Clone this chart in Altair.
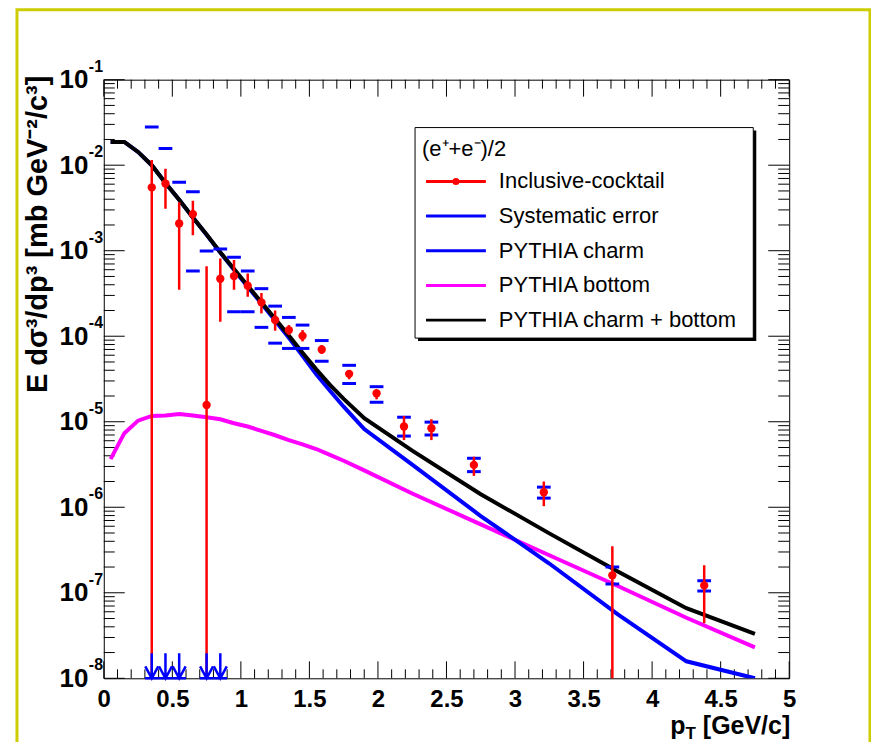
import altair as alt
import pandas as pd

W, H = 687, 600

# ---------------- data ----------------
pt_points = [0.35, 0.45, 0.55, 0.65, 0.75, 0.85, 0.95, 1.05, 1.15, 1.25, 1.35,
             1.45, 1.59, 1.79, 1.99, 2.19, 2.39, 2.70, 3.21, 3.71, 4.38]
yield_points = [5.5e-3, 6.1e-3, 2.08e-3, 2.68e-3, 1.57e-5, 4.7e-4, 5.05e-4, 3.9e-4,
                2.49e-4, 1.55e-4, 1.18e-4, 1.01e-4, 7.0e-5, 3.63e-5, 2.15e-5, 8.8e-6,
                8.4e-6, 3.13e-6, 1.5e-6, 1.6e-7, 1.22e-7]
# 0 = lower edge below the axis floor
stat_high = [1.15e-2, 9.1e-3, 3.7e-3, 3.85e-3, 6.6e-4, 8.1e-4, 7.8e-4, 5.4e-4, 3.2e-4,
             2.0e-4, 1.35e-4, 1.18e-4, 7.9e-5, 4.0e-5, 2.4e-5, 1.17e-5, 1.07e-5,
             3.9e-6, 2.0e-6, 3.5e-7, 2.1e-7]
stat_low = [0, 3.1e-3, 3.5e-4, 1.52e-3, 0, 1.48e-4, 3.5e-4, 2.9e-4, 1.85e-4, 1.16e-4,
            1.03e-4, 8.7e-5, 6.2e-5, 3.14e-5, 1.83e-5, 6.1e-6, 6.1e-6, 2.33e-6,
            1.03e-6, 0, 4.4e-8]
sys_high = [2.8e-2, 1.57e-2, 6.3e-3, 4.9e-3, 9.9e-4, 1.05e-3, 8.4e-4, 5.8e-4, 3.6e-4,
            2.25e-4, 1.66e-4, 1.35e-4, 8.9e-5, 4.57e-5, 2.57e-5, 1.13e-5, 9.9e-6,
            3.74e-6, 1.72e-6, 2.0e-7, 1.38e-7]
sys_low = [0, 0, 0, 5.8e-4, 0, 0, 1.93e-4, 1.93e-4, 1.27e-4, 8.3e-5, 7.2e-5, 7.2e-5,
           5.1e-5, 2.8e-5, 1.69e-5, 6.8e-6, 7.0e-6, 2.61e-6, 1.28e-6, 1.27e-7, 1.05e-7]

pt_curve = [0.05, 0.15, 0.25, 0.35, 0.45, 0.55, 0.65, 0.75, 0.85, 0.95, 1.05, 1.15,
            1.25, 1.35, 1.45, 1.55, 1.65, 1.75, 1.9, 2.25, 2.75, 3.25, 3.75, 4.25, 4.75]
pythia_charm = [1.87e-2, 1.87e-2, 1.43e-2, 1.0e-2, 6.2e-3, 3.94e-3, 2.44e-3, 1.54e-3,
                9.5e-4, 6.0e-4, 3.8e-4, 2.42e-4, 1.53e-4, 9.6e-5, 5.9e-5, 3.6e-5,
                2.3e-5, 1.5e-5, 8.2e-6, 3.15e-6, 7.9e-7, 2.2e-7, 5.6e-8, 1.58e-8, 1.0e-8]
pythia_bottom = [3.65e-6, 7.35e-6, 1.03e-5, 1.17e-5, 1.18e-5, 1.23e-5, 1.18e-5, 1.13e-5,
                 1.07e-5, 9.6e-6, 8.8e-6, 7.8e-6, 6.95e-6, 6.1e-6, 5.45e-6, 4.8e-6,
                 4.1e-6, 3.5e-6, 2.7e-6, 1.45e-6, 6.3e-7, 2.75e-7, 1.2e-7, 5.1e-8, 2.3e-8]
pythia_sum = [1.87e-2, 1.87e-2, 1.43e-2, 1.0e-2, 6.2e-3, 3.95e-3, 2.45e-3, 1.55e-3,
              9.6e-4, 6.1e-4, 3.9e-4, 2.5e-4, 1.6e-4, 1.02e-4, 6.4e-5, 4.1e-5, 2.7e-5,
              1.85e-5, 1.1e-5, 4.6e-6, 1.42e-6, 4.95e-7, 1.77e-7, 6.6e-8, 3.3e-8]

x_major = [0, 0.5, 1, 1.5, 2, 2.5, 3, 3.5, 4, 4.5, 5]
x_minor = [round(i * 0.1, 1) for i in range(51) if i % 5 != 0]
y_decades = [1e-8, 1e-7, 1e-6, 1e-5, 1e-4, 1e-3, 1e-2, 1e-1]
y_exponents = ["-8", "-7", "-6", "-5", "-4", "-3", "-2", "-1"]
y_minor = [m * 10.0 ** e for e in range(-8, -1) for m in range(2, 10)]

legend_header = "(e\u207a+e\u207b)/2"
legend_labels = ["Inclusive-cocktail", "Systematic error", "PYTHIA charm",
                 "PYTHIA bottom", "PYTHIA charm + bottom"]
legend_colors = ["#ff0000", "#0000ff", "#0000ff", "#ff00ff", "#000000"]

y_title = "E d\u03c3\u00b3/dp\u00b3 [mb GeV\u207b\u00b2/c\u00b3]"
x_title_main, x_title_sub, x_title_unit = "p", "T", "[GeV/c]"

RED, BLUE, MAG, BLACK = "#ff0000", "#0000ff", "#ff00ff", "#000000"
FONT = "Liberation Sans"

# ---------------- scales / axes ----------------
xscale = alt.Scale(domain=[0, 5], nice=False, zero=False)
yscale = alt.Scale(type="log", domain=[1e-8, 1e-1], nice=False)
xaxis = alt.Axis(values=x_major, format="~g", labelFontSize=24, labelFont=FONT,
                 labelFontWeight="bold", labelColor="black", labelPadding=9,
                 ticks=False, tickSize=0, domain=False, grid=False, title=None,
                 labelFlush=False, labelOverlap=False)
yaxis = alt.Axis(values=y_decades, labelExpr="'10'", labelFontSize=26, labelFont=FONT,
                 labelFontWeight="bold", labelColor="black", labelPadding=16,
                 ticks=False, tickSize=0, domain=False, grid=False, title=None,
                 labelFlush=False, labelOverlap=False, labelBaseline="middle")


def X(f):
    return alt.X(f, type="quantitative", scale=xscale, axis=xaxis)


def Y(f):
    return alt.Y(f, type="quantitative", scale=yscale, axis=yaxis)


pts = pd.DataFrame({"pt": pt_points, "y": yield_points, "shi": stat_high,
                    "slo": stat_low, "syhi": sys_high, "sylo": sys_low})
cur = pd.DataFrame({"pt": pt_curve, "charm": pythia_charm, "bottom": pythia_bottom,
                    "sum": pythia_sum})

layers = []

# yellow canvas frame
layers.append(alt.Chart(pd.DataFrame({"a": [0]})).mark_rect(
    fill="transparent", stroke="#cccc00", strokeWidth=3).encode(
    x=alt.value(-87), x2=alt.value(768), y=alt.value(-70), y2=alt.value(700)))

# inner ticks (ROOT style, all four sides)
xmaj = pd.DataFrame({"v": x_major})
xmin = pd.DataFrame({"v": x_minor})
ymaj = pd.DataFrame({"v": y_decades})
ymin = pd.DataFrame({"v": y_minor})
tick = dict(color="black", strokeWidth=1)
layers += [
    alt.Chart(xmaj).mark_rule(**tick).encode(x=X("v"), y=alt.value(H), y2=alt.value(H - 17)),
    alt.Chart(xmaj).mark_rule(**tick).encode(x=X("v"), y=alt.value(0), y2=alt.value(17)),
    alt.Chart(xmin).mark_rule(**tick).encode(x=X("v"), y=alt.value(H), y2=alt.value(H - 9)),
    alt.Chart(xmin).mark_rule(**tick).encode(x=X("v"), y=alt.value(0), y2=alt.value(9)),
    alt.Chart(ymaj).mark_rule(**tick).encode(y=Y("v"), x=alt.value(0), x2=alt.value(21)),
    alt.Chart(ymaj).mark_rule(**tick).encode(y=Y("v"), x=alt.value(W), x2=alt.value(W - 21)),
    alt.Chart(ymin).mark_rule(**tick).encode(y=Y("v"), x=alt.value(0), x2=alt.value(11)),
    alt.Chart(ymin).mark_rule(**tick).encode(y=Y("v"), x=alt.value(W), x2=alt.value(W - 11)),
]

# y exponents
exps = pd.DataFrame({"v": y_decades, "e": y_exponents})
layers.append(alt.Chart(exps).mark_text(align="left", baseline="middle", fontSize=16,
                                        fontWeight="bold", font=FONT, color="black",
                                        dy=-13).encode(
    y=Y("v"), x=alt.value(-15), text="e:N"))

# curves
for col, colr in [("bottom", MAG), ("charm", BLUE), ("sum", BLACK)]:
    layers.append(alt.Chart(cur).mark_line(color=colr, strokeWidth=4, clip=True).encode(
        x=X("pt"), y=Y(col)))

# systematic error dashes
half = 0.05
sysbase = alt.Chart(pts).transform_calculate(x1=f"datum.pt - {half}", x2=f"datum.pt + {half}")
layers.append(sysbase.mark_rule(color=BLUE, strokeWidth=3, clip=True).encode(
    x=X("x1"), x2="x2:Q", y=Y("syhi")))
layers.append(sysbase.transform_filter("datum.sylo > 0").mark_rule(
    color=BLUE, strokeWidth=3, clip=True).encode(x=X("x1"), x2="x2:Q", y=Y("sylo")))

# statistical error bars
layers.append(alt.Chart(pts).transform_calculate(
    lo="datum.slo > 0 ? datum.slo : 1e-10").mark_rule(
    color=RED, strokeWidth=2.5, clip=True).encode(x=X("pt"), y=Y("shi"), y2="lo:Q"))

# points
layers.append(alt.Chart(pts).mark_circle(color=RED, size=70, opacity=1).encode(
    x=X("pt"), y=Y("y")))

# arrows for systematic lower edge below floor
arrow = "M0,-2.85L0,1M-1,-0.85L0,1L1,-0.85M-1.05,1L1.05,1"
layers.append(alt.Chart(pts).transform_filter("datum.sylo <= 0").mark_point(
    shape=arrow, size=169, filled=False, stroke=BLUE, strokeWidth=2.5, opacity=1).encode(
    x=X("pt"), y=alt.value(H - 6.5)))

# legend
one = pd.DataFrame({"a": [0]})
layers.append(alt.Chart(one).mark_rect(fill="black").encode(
    x=alt.value(315), x2=alt.value(654), y=alt.value(51), y2=alt.value(262)))
layers.append(alt.Chart(one).mark_rect(fill="white", stroke="black", strokeWidth=1).encode(
    x=alt.value(312), x2=alt.value(651), y=alt.value(48), y2=alt.value(259)))
layers.append(alt.Chart(pd.DataFrame({"t": [legend_header]})).mark_text(
    align="left", baseline="middle", fontSize=22, font=FONT, color="black").encode(
    x=alt.value(319), y=alt.value(69), text="t:N"))
for i, (lab, colr) in enumerate(zip(legend_labels, legend_colors)):
    yy = 102 + i * 34.75
    layers.append(alt.Chart(one).mark_rule(color=colr, strokeWidth=3).encode(
        x=alt.value(323), x2=alt.value(383), y=alt.value(yy)))
    layers.append(alt.Chart(pd.DataFrame({"t": [lab]})).mark_text(
        align="left", baseline="middle", fontSize=22, font=FONT, color="black").encode(
        x=alt.value(396), y=alt.value(yy), text="t:N"))
    if i == 0:
        layers.append(alt.Chart(one).mark_circle(color=colr, size=50, opacity=1).encode(
            x=alt.value(353), y=alt.value(yy)))

# axis titles
layers.append(alt.Chart(pd.DataFrame({"t": [y_title]})).mark_text(
    angle=270, align="right", baseline="middle", fontSize=29, fontWeight="bold",
    font=FONT, color="black").encode(x=alt.value(-66), y=alt.value(-4), text="t:N"))
layers.append(alt.Chart(pd.DataFrame({"t": [x_title_unit]})).mark_text(
    align="right", baseline="alphabetic", fontSize=25, fontWeight="bold", font=FONT,
    color="black").encode(x=alt.value(688), y=alt.value(656), text="t:N"))
layers.append(alt.Chart(pd.DataFrame({"t": [x_title_sub]})).mark_text(
    align="left", baseline="alphabetic", fontSize=17, fontWeight="bold", font=FONT,
    color="black").encode(x=alt.value(583), y=alt.value(661), text="t:N"))
layers.append(alt.Chart(pd.DataFrame({"t": [x_title_main]})).mark_text(
    align="right", baseline="alphabetic", fontSize=25, fontWeight="bold", font=FONT,
    color="black").encode(x=alt.value(583), y=alt.value(656), text="t:N"))

chart = alt.layer(*layers).properties(
    width=W, height=H,
    autosize=alt.AutoSizeParams(type="none"),
    padding={"left": 96, "top": 71, "right": 82, "bottom": 63},
    background="white",
).configure_view(stroke="black", strokeWidth=1)

chart.save("out.html", embed_options={"renderer": "svg", "actions": False})
